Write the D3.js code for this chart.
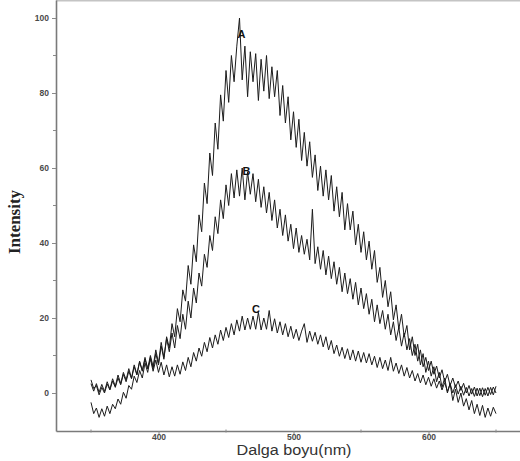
<!DOCTYPE html>
<html>
<head>
<meta charset="utf-8">
<script src="https://cdnjs.cloudflare.com/ajax/libs/d3/7.8.5/d3.min.js"></script>
<style>
  html, body { margin: 0; padding: 0; background: #fff; }
  svg { display: block; }
</style>
</head>
<body>
<div id="chart"></div>
<script>
// wavelength grid (nm), 2 nm steps from 350 to 650
const wavelengths = d3.range(350, 651, 2);

// one value per wavelength
const seriesA = [
  -2.5, -5.5, -4, -6.5, -4.2, -6.2, -3.5, -5.5, -3, -4.2,
  -1.6, -3, 0.2, -1.4, 2, 1, 4.5, 2.8, 6, 4,
  8, 5.5, 9.5, 6.5, 10.5, 7.5, 12.5, 9, 15, 12,
  18.5, 15, 22.5, 19, 27.5, 24.5, 34, 29, 39.5, 35,
  47.5, 43, 56, 50.5, 64, 58, 72, 65, 79.5, 72.5,
  86, 77.5, 90, 83, 92.5, 100, 83.5, 92.5, 79, 91,
  83, 90.5, 78, 89, 80.5, 90, 78.5, 87, 79, 86,
  74, 82, 72, 79, 67.5, 75, 65.5, 73, 62, 69.5,
  60.5, 67, 57.5, 63.5, 54, 60.5, 52.5, 59.5, 51.5, 58,
  48.5, 55, 47, 53.5, 43.5, 50.5, 43.5, 48.5, 39.5, 45,
  37.5, 43, 35.5, 40.5, 33, 38, 29.5, 33.5, 25.5, 30,
  23, 27, 19.5, 23.5, 17, 21, 15, 18, 11.5, 15,
  10, 13, 7.5, 10.5, 5.5, 8.5, 4.5, 7, 3, 5.5,
  1.5, 4, 0, 2.5, -2, 1, -2.5, 0, -3.5, -1.5,
  -4.5, -2, -5.5, -3, -6, -3.3, -6.5, -4, -6.2, -3.8,
  -5.5
];
const seriesB = [
  3.5, 1.2, 2, -0.5, 1.5, 0, 2.4, 0.8, 3.2, 1.5,
  4, 2.2, 5, 3, 5.8, 3.8, 7, 4.8, 8.3, 5.8,
  9, 6.5, 10, 7, 11.5, 8, 13.5, 9.5, 14.5, 11,
  16, 12, 18, 14.5, 21, 17, 24.5, 20, 28, 24,
  32, 28.5, 37, 33.5, 42, 38, 47, 42.5, 51.5, 46.5,
  55.5, 50, 58.5, 52, 59.5, 52.5, 60, 51.5, 59, 53,
  58.5, 51, 57, 49.5, 55, 48, 53.5, 46, 51.5, 44,
  49, 42, 47.5, 40.5, 45, 38.5, 44, 37.5, 42, 37,
  41, 35.5, 49, 34.5, 39, 33, 38, 31.5, 36.5, 30.5,
  35, 29, 33.5, 27, 32, 26.5, 30.5, 25, 29.5, 23.5,
  28, 22.5, 26.5, 21, 25, 19, 23.5, 18.5, 22, 17,
  21, 15.5, 19, 14, 17.5, 12.5, 16, 11.5, 14.5, 10,
  13, 8.5, 11.5, 7, 9.5, 6, 8.5, 5, 7.2, 4,
  6.2, 3, 5, 2, 4, 1.5, 3.2, 0.7, 2.6, 0,
  2, -0.3, 1.6, -0.8, 1.3, -1, 1.2, -0.8, 1.5, -0.5,
  1.8
];
const seriesC = [
  2.5, 0.5, 2.5, 0.2, 2.3, 0.4, 3, 1, 3.8, 1.8,
  4.8, 2.5, 5.5, 3.5, 6.5, 4, 7.5, 5, 8.5, 6,
  9.5, 6.5, 9, 5.8, 8.8, 5.5, 8.2, 4.8, 7.5, 4.3,
  7, 4.5, 7.5, 5, 8.3, 6, 9.5, 7, 10.8, 8.5,
  12, 9.8, 13.5, 11, 14.8, 12, 15.5, 13, 16.8, 14,
  17.5, 14.8, 18.5, 15.5, 19.5, 16.5, 20.5, 16.8, 20, 17,
  20.5, 17, 21.5, 16.8, 20, 17, 22, 16.5, 19.8, 16,
  19, 15.5, 18.5, 15, 17.8, 14.5, 17, 14, 16.5, 18.5,
  13.5, 16.5, 13.8, 16.2, 13, 15.5, 12.3, 15, 11.5, 14,
  10.5, 12.8, 9.8, 12.2, 9.2, 11.8, 8.8, 11.5, 8.5, 11.2,
  8.2, 10.8, 8, 10.5, 7.5, 9.8, 6.8, 9.5, 6.5, 8.8,
  6, 9.5, 5.8, 8, 5.2, 7.5, 4.5, 6.8, 4, 6,
  3.2, 5.2, 2.7, 4.8, 2.2, 4.2, 1.8, 3.8, 1.3, 3.2,
  0.8, 2.8, 0.4, 2.5, 0, 2.2, -0.3, 1.8, -0.6, 1.5,
  -0.8, 1.2, -0.9, 1.3, -0.7, 1.4, -0.6, 1.5, -0.4, 1.6,
  0
];
const seriesNames = ['A', 'B', 'C'];

// axis ticks
const xMajorTicks = [400, 500, 600];
const xMinorTicks = [350, 450, 550, 650];
const yMajorTicks = [0, 20, 40, 60, 80, 100];
const yMinorTicks = [10, 30, 50, 70, 90];

const xTitle = 'Dalga boyu(nm)';
const yTitle = 'Intensity';

const width = 520, height = 461;

const svg = d3.select('#chart').append('svg')
    .attr('width', width)
    .attr('height', height);

const x = d3.scaleLinear().domain([350, 650]).range([91, 496]);
const y = d3.scaleLinear().domain([0, 100]).range([393, 18]);

// axis frame extends beyond the data range
const axisLeft = 56, axisBottom = 431;
const xFrame = x.copy().domain([x.invert(axisLeft), x.invert(width)]).range([axisLeft, width]);
const yFrame = y.copy().domain([y.invert(axisBottom), y.invert(0)]).range([axisBottom, 0]);

// top border
svg.append('line')
    .attr('x1', axisLeft).attr('x2', width)
    .attr('y1', 0.75).attr('y2', 0.75)
    .attr('stroke', '#c4c4c4')
    .attr('stroke-width', 1.5);

// y axis
const yAxis = svg.append('g')
    .attr('transform', `translate(${axisLeft},0)`)
    .call(d3.axisLeft(yFrame).tickValues(yMajorTicks).tickSize(4).tickSizeOuter(0).tickPadding(3));
yAxis.append('g')
    .attr('class', 'minor')
    .selectAll('line')
    .data(yMinorTicks)
    .enter()
    .append('line')
    .attr('x1', -3).attr('x2', 0)
    .attr('y1', d => y(d)).attr('y2', d => y(d));

// x axis
const xAxis = svg.append('g')
    .attr('transform', `translate(0,${axisBottom})`)
    .call(d3.axisBottom(xFrame).tickValues(xMajorTicks).tickSize(3).tickSizeOuter(0).tickPadding(0));
xAxis.append('g')
    .attr('class', 'minor')
    .selectAll('line')
    .data(xMinorTicks)
    .enter()
    .append('line')
    .attr('x1', d => x(d)).attr('x2', d => x(d))
    .attr('y1', -1.5).attr('y2', 1.5);

svg.selectAll('.domain')
    .attr('stroke', '#7a7a7a')
    .attr('stroke-width', 1.6);
svg.selectAll('.tick line, .minor line')
    .attr('stroke', '#8a8a8a')
    .attr('stroke-width', 1);
svg.selectAll('.tick text')
    .attr('fill', '#4a4a4a')
    .style('font-family', '"Liberation Sans", Arial, sans-serif')
    .style('font-size', '8.5px')
    .style('font-weight', 'bold');

// lines
const line = d3.line()
    .x((d, i) => x(wavelengths[i]))
    .y(d => y(d));

[seriesA, seriesB, seriesC].forEach(values => {
    svg.append('path')
        .datum(values)
        .attr('fill', 'none')
        .attr('stroke', '#1c1c1c')
        .attr('stroke-width', 1)
        .attr('stroke-linejoin', 'round')
        .attr('d', line);
});

// curve labels, anchored in data units
const labelAt = [[461.5, 94.7], [465.2, 58.1], [472.2, 21.3]];
svg.selectAll('.curve-label')
    .data(seriesNames)
    .enter()
    .append('text')
    .attr('class', 'curve-label')
    .attr('x', (d, i) => x(labelAt[i][0]))
    .attr('y', (d, i) => y(labelAt[i][1]))
    .attr('text-anchor', 'middle')
    .style('font-family', '"Liberation Sans", Arial, sans-serif')
    .style('font-size', '11px')
    .style('font-weight', 'bold')
    .attr('fill', '#111')
    .text(d => d);

// axis titles
svg.append('text')
    .attr('x', 294)
    .attr('y', 455)
    .attr('text-anchor', 'middle')
    .attr('textLength', 115)
    .attr('lengthAdjust', 'spacingAndGlyphs')
    .style('font-family', '"Liberation Sans", Arial, sans-serif')
    .style('font-size', '14px')
    .attr('fill', '#333')
    .text(xTitle);

svg.append('text')
    .attr('transform', 'translate(20,222) rotate(-90)')
    .attr('text-anchor', 'middle')
    .attr('textLength', 64)
    .attr('lengthAdjust', 'spacingAndGlyphs')
    .style('font-family', '"Liberation Serif", "Times New Roman", serif')
    .style('font-size', '16px')
    .style('font-weight', 'bold')
    .attr('fill', '#222')
    .text(yTitle);
</script>
</body>
</html>
